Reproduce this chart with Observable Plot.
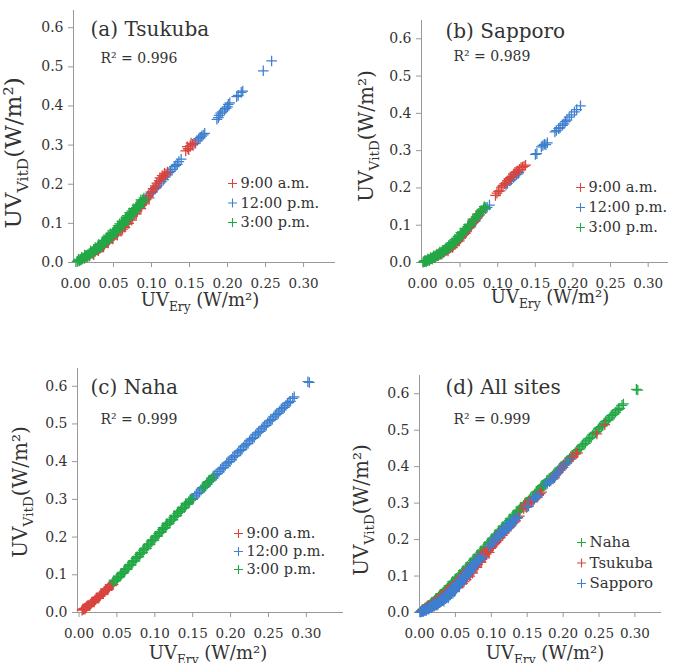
<!DOCTYPE html>
<html><head><meta charset="utf-8">
<script src="https://cdn.jsdelivr.net/npm/d3@7"></script>
<script src="https://cdn.jsdelivr.net/npm/@observablehq/plot@0.6"></script>
<style>
body{margin:0;background:#fff;}
#root{position:relative;width:673px;height:663px;overflow:hidden;background:#fff;}
#root svg{position:absolute;}
</style></head><body><div id="root"></div>
<script>
// ---------- tick labels ----------
const xTicks = [0, 0.05, 0.10, 0.15, 0.20, 0.25, 0.30];
const yTicks = [0, 0.1, 0.2, 0.3, 0.4, 0.5, 0.6];

// ---------- texts ----------
const panelTitles = ["(a) Tsukuba", "(b) Sapporo", "(c) Naha", "(d) All sites"];
const r2Labels = ["R\u00B2 = 0.996", "R\u00B2 = 0.989", "R\u00B2 = 0.999", "R\u00B2 = 0.999"];
const timeLabels = ["9:00 a.m.", "12:00 p.m.", "3:00 p.m."];
const siteLabels = ["Naha", "Tsukuba", "Sapporo"];

// ---------- data: [UV_Ery, UV_VitD] (W/m2) ----------
const tsukuba9am = [[0.012,0.011],[0.016,0.016],[0.019,0.018],[0.022,0.023],[0.026,0.028],[0.029,0.033],[0.032,0.036],[0.035,0.042],[0.038,0.046],[0.041,0.052],[0.044,0.057],[0.047,0.063],[0.050,0.068],[0.053,0.073],[0.056,0.078],[0.059,0.083],[0.062,0.085],[0.064,0.092],[0.066,0.098],[0.069,0.104],[0.072,0.111],[0.075,0.118],[0.078,0.124],[0.081,0.131],[0.084,0.139],[0.087,0.146],[0.090,0.154],[0.093,0.161],[0.096,0.171],[0.099,0.180],[0.102,0.189],[0.105,0.196],[0.107,0.203],[0.110,0.209],[0.113,0.214],[0.116,0.219],[0.119,0.226],[0.145,0.285],[0.148,0.291],[0.151,0.298],[0.154,0.302],
  [0.024,0.020],[0.030,0.030],[0.037,0.040],[0.043,0.050],[0.049,0.060],[0.055,0.070],[0.060,0.080],[0.065,0.090],[0.070,0.100],[0.074,0.108],[0.080,0.124],[0.086,0.138],[0.091,0.150],[0.097,0.165],[0.101,0.182],[0.106,0.192],[0.111,0.216],[0.114,0.222],[0.117,0.228],[0.121,0.231],[0.147,0.296],[0.152,0.305],[0.149,0.288],[0.156,0.304]];
const tsukuba12pm = [[0.031,0.035],[0.038,0.047],[0.045,0.059],[0.051,0.069],[0.057,0.084],[0.062,0.094],[0.067,0.104],[0.072,0.115],[0.077,0.126],[0.082,0.138],[0.087,0.150],[0.092,0.161],[0.096,0.170],[0.101,0.180],[0.105,0.189],[0.109,0.198],[0.113,0.207],[0.118,0.218],[0.123,0.230],[0.127,0.238],[0.130,0.245],[0.134,0.251],[0.139,0.264],[0.158,0.305],[0.162,0.316],[0.166,0.323],[0.170,0.330],[0.186,0.366],[0.189,0.376],[0.193,0.385],[0.198,0.394],[0.201,0.404],[0.212,0.424],[0.218,0.435],[0.247,0.490],[0.258,0.515],
  [0.035,0.039],[0.042,0.052],[0.049,0.064],[0.055,0.078],[0.060,0.088],[0.065,0.098],[0.070,0.110],[0.075,0.120],[0.080,0.132],[0.085,0.144],[0.090,0.156],[0.094,0.166],[0.099,0.176],[0.103,0.186],[0.107,0.193],[0.111,0.203],[0.116,0.212],[0.121,0.224],[0.125,0.233],[0.132,0.248],[0.136,0.258],[0.160,0.311],[0.164,0.320],[0.168,0.326],[0.188,0.370],[0.191,0.382],[0.196,0.390],[0.200,0.398],[0.203,0.408],[0.214,0.427],[0.220,0.438]];
const tsukuba3pm = [[0.002,0.002],[0.003,0.004],[0.005,0.004],[0.006,0.006],[0.007,0.008],[0.008,0.007],[0.009,0.010],[0.010,0.012],[0.011,0.011],[0.012,0.014],[0.013,0.016],[0.014,0.015],[0.015,0.018],[0.016,0.020],[0.017,0.019],[0.018,0.023],[0.019,0.022],[0.020,0.025],[0.021,0.024],[0.022,0.028],[0.023,0.027],[0.024,0.031],[0.025,0.033],[0.026,0.032],[0.027,0.036],[0.028,0.035],[0.029,0.039],[0.031,0.041],[0.032,0.044],[0.033,0.043],[0.034,0.047],[0.035,0.049],[0.036,0.048],[0.037,0.053],[0.038,0.052],[0.039,0.056],[0.040,0.055],[0.041,0.060],[0.042,0.059],[0.043,0.063],[0.044,0.066],[0.045,0.064],[0.046,0.069],[0.047,0.071],[0.048,0.070],[0.049,0.075],[0.050,0.077],[0.051,0.076],[0.052,0.081],[0.053,0.083],[0.054,0.082],[0.055,0.087],[0.056,0.089],[0.057,0.088],[0.058,0.093],[0.059,0.095],[0.060,0.094],[0.061,0.099],[0.062,0.101],[0.063,0.100],[0.064,0.106],[0.065,0.108],[0.066,0.107],[0.067,0.112],[0.068,0.114],[0.069,0.113],[0.070,0.118],[0.071,0.121],[0.072,0.120],[0.073,0.125],[0.074,0.127],[0.075,0.126],[0.076,0.131],[0.077,0.133],[0.078,0.132],[0.079,0.138],[0.080,0.140],[0.081,0.139],[0.082,0.145],[0.083,0.147],[0.084,0.146],[0.085,0.152],[0.086,0.154],[0.087,0.153],[0.088,0.159],[0.089,0.161],[0.090,0.165],
  [0.004,0.008],[0.008,0.013],[0.012,0.019],[0.015,0.013],[0.018,0.016],[0.020,0.030],[0.024,0.024],[0.026,0.038],[0.029,0.033],[0.031,0.046],[0.034,0.040],[0.036,0.054],[0.039,0.050],[0.041,0.064],[0.044,0.058],[0.046,0.074],[0.049,0.068],[0.051,0.082],[0.054,0.077],[0.056,0.094],[0.059,0.088],[0.061,0.105],[0.064,0.099],[0.066,0.114],[0.069,0.108],[0.071,0.127],[0.074,0.120],[0.076,0.137],[0.079,0.131],[0.081,0.146],[0.084,0.141],[0.086,0.160],[0.089,0.155],[0.030,0.045],[0.033,0.038],[0.043,0.070],[0.048,0.066],[0.058,0.099],[0.063,0.095],[0.068,0.120],[0.073,0.119]];

const sapporo9am = [[0.016,0.013],[0.020,0.018],[0.024,0.022],[0.028,0.028],[0.032,0.032],[0.035,0.037],[0.038,0.041],[0.041,0.046],[0.044,0.052],[0.047,0.057],[0.051,0.066],[0.055,0.075],[0.058,0.083],[0.062,0.093],[0.066,0.104],[0.069,0.112],[0.072,0.119],[0.075,0.127],[0.078,0.134],[0.097,0.180],[0.101,0.191],[0.105,0.202],[0.109,0.211],[0.113,0.219],[0.117,0.228],[0.121,0.237],[0.125,0.244],[0.129,0.250],[0.133,0.256],[0.137,0.261],
  [0.018,0.017],[0.022,0.024],[0.026,0.023],[0.030,0.033],[0.034,0.031],[0.037,0.042],[0.040,0.040],[0.043,0.048],[0.046,0.060],[0.049,0.058],[0.053,0.072],[0.057,0.078],[0.060,0.090],[0.064,0.096],[0.068,0.108],[0.071,0.122],[0.074,0.124],[0.077,0.138],[0.099,0.186],[0.103,0.192],[0.107,0.207],[0.111,0.213],[0.115,0.225],[0.119,0.230],[0.123,0.242],[0.127,0.246],[0.131,0.255],[0.135,0.258]];
const sapporo12pm = [[0.020,0.019],[0.025,0.025],[0.030,0.031],[0.034,0.037],[0.038,0.043],[0.042,0.050],[0.046,0.058],[0.050,0.066],[0.053,0.074],[0.056,0.081],[0.059,0.087],[0.062,0.093],[0.065,0.101],[0.068,0.108],[0.071,0.115],[0.084,0.144],[0.089,0.154],[0.111,0.208],[0.116,0.219],[0.121,0.228],[0.125,0.236],[0.128,0.241],[0.150,0.290],[0.158,0.310],[0.162,0.317],[0.166,0.321],[0.176,0.350],[0.181,0.359],[0.186,0.368],[0.190,0.378],[0.195,0.390],[0.202,0.404],[0.210,0.420],
  [0.022,0.021],[0.028,0.027],[0.032,0.035],[0.036,0.038],[0.040,0.048],[0.044,0.052],[0.048,0.063],[0.052,0.068],[0.055,0.080],[0.058,0.083],[0.061,0.094],[0.064,0.096],[0.067,0.106],[0.070,0.110],[0.073,0.120],[0.086,0.148],[0.113,0.212],[0.118,0.222],[0.123,0.232],[0.127,0.238],[0.152,0.292],[0.160,0.314],[0.164,0.316],[0.178,0.354],[0.183,0.362],[0.188,0.372],[0.192,0.382],[0.198,0.396],[0.205,0.410]];
const sapporo3pm = [[0.001,0.001],[0.002,0.003],[0.003,0.002],[0.004,0.004],[0.005,0.005],[0.006,0.004],[0.007,0.006],[0.008,0.008],[0.009,0.007],[0.010,0.009],[0.011,0.011],[0.012,0.010],[0.013,0.012],[0.014,0.014],[0.015,0.015],[0.016,0.014],[0.017,0.017],[0.018,0.018],[0.019,0.019],[0.020,0.021],[0.022,0.023],[0.023,0.025],[0.025,0.027],[0.026,0.029],[0.028,0.032],[0.030,0.035],[0.032,0.038],[0.034,0.041],[0.036,0.045],[0.038,0.048],[0.040,0.052],[0.042,0.056],[0.044,0.060],[0.046,0.064],[0.048,0.068],[0.050,0.073],[0.052,0.078],[0.054,0.082],[0.057,0.089],[0.060,0.096],[0.063,0.103],[0.066,0.110],[0.069,0.117],[0.072,0.124],[0.075,0.131],[0.078,0.138],[0.081,0.144],[0.083,0.148],
  [0.003,0.005],[0.005,0.002],[0.007,0.009],[0.009,0.005],[0.011,0.013],[0.013,0.009],[0.015,0.018],[0.017,0.013],[0.019,0.023],[0.021,0.018],[0.023,0.028],[0.025,0.023],[0.027,0.033],[0.029,0.029],[0.031,0.039],[0.033,0.035],[0.035,0.046],[0.037,0.040],[0.039,0.053],[0.041,0.049],[0.043,0.062],[0.045,0.056],[0.047,0.070],[0.049,0.066],[0.051,0.080],[0.053,0.074],[0.056,0.090],[0.058,0.086],[0.061,0.101],[0.064,0.098],[0.067,0.116],[0.070,0.114],[0.073,0.130],[0.076,0.128],[0.079,0.140],[0.082,0.150],[0.084,0.146]];

const naha9am = [[0.004,0.006],[0.006,0.009],[0.007,0.011],[0.009,0.013],[0.010,0.015],[0.012,0.018],[0.013,0.019],[0.015,0.022],[0.016,0.024],[0.018,0.027],[0.019,0.029],[0.021,0.033],[0.022,0.034],[0.024,0.038],[0.025,0.040],[0.027,0.043],[0.028,0.045],[0.030,0.049],[0.031,0.051],[0.033,0.055],[0.034,0.056],[0.036,0.060],[0.037,0.062],[0.039,0.066],[0.040,0.068],[0.042,0.072],[0.044,0.076],
  [0.005,0.009],[0.008,0.009],[0.011,0.018],[0.014,0.018],[0.017,0.028],[0.020,0.028],[0.023,0.039],[0.026,0.038],[0.029,0.050],[0.032,0.050],[0.035,0.061],[0.038,0.060],[0.041,0.073],[0.043,0.071],[0.045,0.074]];
const naha12pm = [[0.112,0.224],[0.145,0.292],[0.149,0.300],[0.153,0.309],[0.157,0.316],[0.161,0.325],[0.165,0.333],[0.169,0.341],[0.173,0.350],[0.177,0.358],[0.181,0.366],[0.185,0.374],[0.189,0.383],[0.193,0.390],[0.197,0.399],[0.201,0.406],[0.205,0.415],[0.209,0.423],[0.213,0.430],[0.217,0.439],[0.221,0.447],[0.225,0.455],[0.229,0.462],[0.233,0.471],[0.237,0.478],[0.241,0.487],[0.245,0.494],[0.249,0.503],[0.253,0.510],[0.257,0.519],[0.261,0.526],[0.265,0.534],[0.269,0.542],[0.273,0.549],[0.277,0.557],[0.282,0.568],[0.304,0.610],
  [0.147,0.299],[0.151,0.303],[0.155,0.315],[0.159,0.319],[0.163,0.331],[0.167,0.335],[0.171,0.347],[0.175,0.352],[0.179,0.364],[0.183,0.368],[0.187,0.380],[0.191,0.384],[0.195,0.396],[0.199,0.400],[0.203,0.412],[0.207,0.416],[0.211,0.428],[0.215,0.432],[0.219,0.444],[0.223,0.448],[0.227,0.460],[0.231,0.464],[0.235,0.476],[0.239,0.480],[0.243,0.492],[0.247,0.496],[0.251,0.508],[0.255,0.512],[0.259,0.524],[0.263,0.528],[0.267,0.540],[0.271,0.544],[0.275,0.555],[0.279,0.560],[0.284,0.572],[0.302,0.612]];
const naha3pm = [[0.045,0.080],[0.047,0.084],[0.050,0.089],[0.052,0.094],[0.055,0.100],[0.057,0.104],[0.060,0.110],[0.062,0.115],[0.065,0.121],[0.067,0.126],[0.070,0.132],[0.072,0.137],[0.075,0.143],[0.077,0.148],[0.080,0.154],[0.082,0.159],[0.085,0.165],[0.087,0.170],[0.090,0.176],[0.092,0.181],[0.095,0.187],[0.097,0.192],[0.100,0.198],[0.102,0.203],[0.105,0.209],[0.107,0.214],[0.110,0.220],[0.112,0.224],[0.115,0.231],[0.117,0.235],[0.120,0.241],[0.122,0.246],[0.125,0.252],[0.127,0.256],[0.130,0.263],[0.132,0.267],[0.135,0.273],[0.137,0.277],[0.140,0.283],[0.142,0.287],[0.145,0.294],[0.148,0.299],[0.163,0.330],[0.167,0.338],[0.171,0.347],[0.175,0.354],
  [0.046,0.085],[0.049,0.086],[0.051,0.094],[0.054,0.095],[0.056,0.104],[0.059,0.105],[0.061,0.115],[0.064,0.116],[0.066,0.125],[0.069,0.126],[0.071,0.136],[0.074,0.137],[0.076,0.147],[0.079,0.148],[0.081,0.158],[0.084,0.159],[0.086,0.169],[0.089,0.170],[0.091,0.180],[0.094,0.181],[0.096,0.191],[0.099,0.192],[0.101,0.202],[0.104,0.203],[0.106,0.213],[0.109,0.214],[0.111,0.225],[0.114,0.225],[0.116,0.236],[0.119,0.236],[0.121,0.246],[0.124,0.246],[0.126,0.257],[0.129,0.257],[0.131,0.268],[0.134,0.268],[0.136,0.278],[0.139,0.278],[0.141,0.289],[0.144,0.289],[0.147,0.300],[0.150,0.300],[0.165,0.332],[0.169,0.345],[0.173,0.349],[0.177,0.362]];

// ---------- colours ----------
const red = "#d9443f", blue = "#3e7fcf", green = "#23a846";
const axisColor = "#999", textColor = "#333", font = "DejaVu Serif";

// ---------- panel layout (absolute page pixels) ----------
const layouts = [
  {left:0,   top:0,   width:340, height:320, frame:[73,10,335,262],  xDomain:[-0.0026,0.342], yDomain:[0,0.644], title:[90,35],  r2:[100,62],  legend:[232,183,19.5], xlabel:[200,306], ylabel:[21,153], ysize:23},
  {left:333, top:0,   width:340, height:320, frame:[421,20,668,262], xDomain:[-0.0013,0.327], yDomain:[0,0.649], title:[445,37], r2:[453,60],  legend:[580,187,20],   xlabel:[550,303], ylabel:[373,136], ysize:20},
  {left:0,   top:330, width:345, height:333, frame:[77,368,343,612], xDomain:[-0.002,0.349],  yDomain:[0,0.647], title:[90,393], r2:[100,423], legend:[238,533,18],   xlabel:[208,659], ylabel:[27,492], ysize:20},
  {left:333, top:330, width:340, height:333, frame:[419,375,661,612],xDomain:[0,0.337],       yDomain:[0,0.65],  title:[445,393],r2:[453,423], legend:[581,542,20.5], xlabel:[545,659], ylabel:[368,510], ysize:20}
];

const panelSeries = [
  [{data:tsukuba12pm,color:blue},{data:tsukuba9am,color:red},{data:tsukuba3pm,color:green}],
  [{data:sapporo12pm,color:blue},{data:sapporo9am,color:red},{data:sapporo3pm,color:green}],
  [{data:naha9am,color:red},{data:naha12pm,color:blue},{data:naha3pm,color:green}],
  [{data:[...naha9am,...naha12pm,...naha3pm],color:green},
   {data:[...tsukuba9am,...tsukuba12pm,...tsukuba3pm],color:red},
   {data:[...sapporo9am,...sapporo12pm,...sapporo3pm],color:blue}]
];
const legendSpecs = [
  timeLabels.map((t,i)=>({label:t,color:[red,blue,green][i]})),
  timeLabels.map((t,i)=>({label:t,color:[red,blue,green][i]})),
  timeLabels.map((t,i)=>({label:t,color:[red,blue,green][i]})),
  siteLabels.map((t,i)=>({label:t,color:[green,red,blue][i]}))
];

const root = document.getElementById("root");

function addAxisLabel(svg, x, y, main, sub, tail, size, rotate) {
  const t = d3.select(svg).append("text")
    .attr("transform", `translate(${x},${y})` + (rotate ? " rotate(-90)" : ""))
    .attr("text-anchor", "middle").attr("font-family", font)
    .attr("font-size", size).attr("fill", textColor);
  t.append("tspan").text(main);
  t.append("tspan").attr("font-size", size * 0.68).attr("dy", size * 0.3).text(sub);
  t.append("tspan").attr("dy", -size * 0.3).text(tail);
}

layouts.forEach((L, k) => {
  const [fl, ft, fr, fb] = L.frame;
  const mL = fl - L.left, mT = ft - L.top, mR = L.left + L.width - fr, mB = L.top + L.height - fb;
  const marks = [
    Plot.ruleX([L.xDomain[0]], {stroke: axisColor}),
    Plot.ruleY([L.yDomain[0]], {stroke: axisColor}),
    Plot.axisX({ticks: xTicks, tickFormat: d => d.toFixed(2), tickSize: 5, tickPadding: 11, stroke: axisColor, fill: textColor, fontSize: 13.5, label: null}),
    Plot.axisY({ticks: yTicks, tickFormat: d => d.toFixed(1), tickSize: 5, tickPadding: 5, stroke: axisColor, fill: textColor, fontSize: 14, label: null})
  ];
  for (const s of panelSeries[k]) {
    marks.push(Plot.dot(s.data, {x: d => d[0], y: d => d[1], symbol: "plus", r: 3.5, stroke: s.color, strokeWidth: 1.25}));
  }
  marks.push(Plot.text([panelTitles[k]], {text: d => d, frameAnchor: "top-left", dx: L.title[0] - fl, dy: L.title[1] - ft, textAnchor: "start", lineAnchor: "bottom", fontSize: 20, fill: textColor}));
  marks.push(Plot.text([r2Labels[k]], {text: d => d, frameAnchor: "top-left", dx: L.r2[0] - fl, dy: L.r2[1] - ft, textAnchor: "start", lineAnchor: "bottom", fontSize: 14, fill: textColor}));
  legendSpecs[k].forEach((item, i) => {
    const ly = L.legend[1] + i * L.legend[2] - ft;
    marks.push(Plot.dot([item], {frameAnchor: "top-left", dx: L.legend[0] - fl, dy: ly, symbol: "plus", r: 3, stroke: item.color, strokeWidth: 1.1}));
    marks.push(Plot.text([item], {text: d => d.label, frameAnchor: "top-left", dx: L.legend[0] + 8 - fl, dy: ly, textAnchor: "start", lineAnchor: "middle", fontSize: k === 3 ? 15 : 14.5, fill: textColor}));
  });
  const svg = Plot.plot({
    width: L.width, height: L.height,
    marginLeft: mL, marginTop: mT, marginRight: mR, marginBottom: mB,
    x: {domain: L.xDomain, label: null},
    y: {domain: L.yDomain, label: null},
    style: {fontFamily: font, background: "transparent", overflow: "visible", color: textColor},
    marks
  });
  svg.style.left = L.left + "px";
  svg.style.top = L.top + "px";
  addAxisLabel(svg, L.xlabel[0] - L.left, L.xlabel[1] - L.top, "UV", "Ery", " (W/m\u00B2)", 18, false);
  addAxisLabel(svg, L.ylabel[0] - L.left, L.ylabel[1] - L.top, "UV", "VitD", "(W/m\u00B2)", L.ysize, true);
  root.appendChild(svg);
});
</script>
</body></html>
